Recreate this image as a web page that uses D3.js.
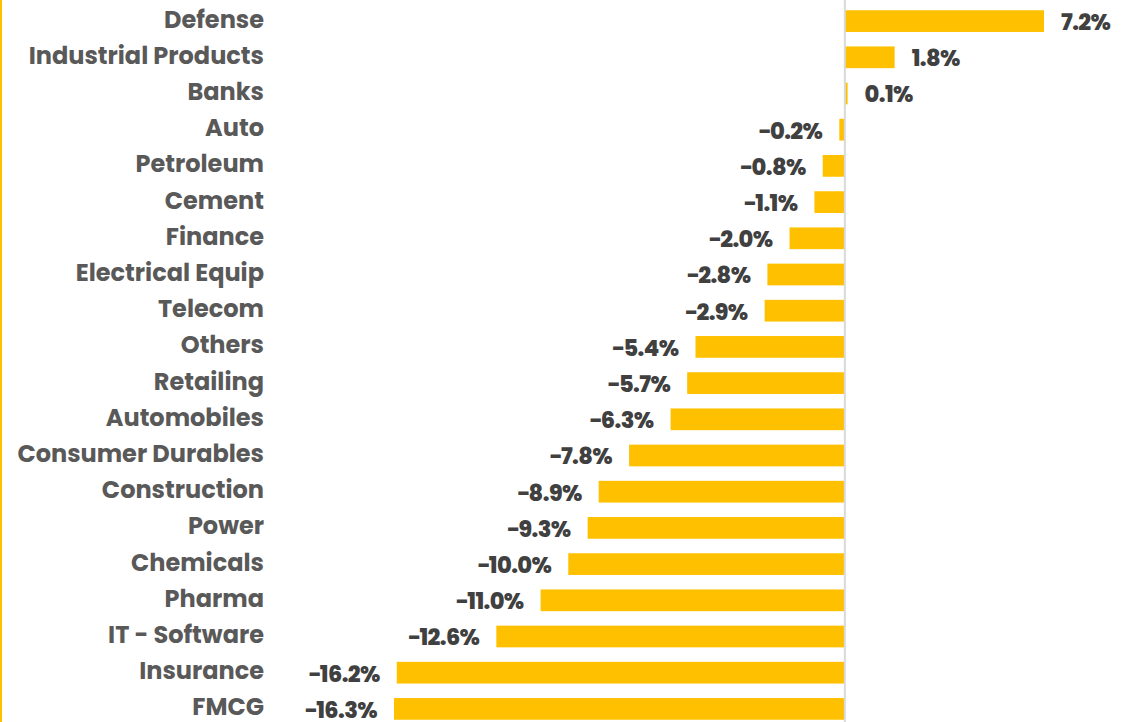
<!DOCTYPE html>
<html>
<head>
<meta charset="utf-8">
<script src="https://cdn.jsdelivr.net/npm/d3@7"></script>
<style>
  body { margin: 0; background: #fff; }
  svg { display: block; }
</style>
</head>
<body>
<div id="chart"></div>
<script>
const sectors = [
  "Defense", "Industrial Products", "Banks", "Auto", "Petroleum", "Cement",
  "Finance", "Electrical Equip", "Telecom", "Others", "Retailing",
  "Automobiles", "Consumer Durables", "Construction", "Power", "Chemicals",
  "Pharma", "IT - Software", "Insurance", "FMCG"
];
const changes = [
  7.2, 1.8, 0.1, -0.2, -0.8, -1.1,
  -2.0, -2.8, -2.9, -5.4, -5.7,
  -6.3, -7.8, -8.9, -9.3, -10.0,
  -11.0, -12.6, -16.2, -16.3
];

const size = { width: 1138, height: 722 };
const font = "Poppins, 'Open Sans', sans-serif";

const data = sectors.map((s, i) => ({ name: s, value: changes[i] }));

const svg = d3
  .select("#chart")
  .append("svg")
  .attr("width", size.width)
  .attr("height", size.height);

const x = d3.scaleLinear().domain([-16.3, 7.2]).range([394, 1044]);
const y = d3
  .scaleBand()
  .domain(sectors)
  .range([3, 727])
  .paddingInner(0.4)
  .paddingOuter(0.2);

// left edge accent
svg
  .append("line")
  .attr("x1", 1)
  .attr("x2", 1)
  .attr("y1", 0)
  .attr("y2", size.height)
  .attr("stroke", "#FFC000")
  .attr("stroke-width", 2);

svg
  .selectAll(".bar")
  .data(data)
  .join("rect")
  .attr("class", "bar")
  .attr("x", (d) => x(Math.min(0, d.value)))
  .attr("width", (d) => Math.abs(x(d.value) - x(0)))
  .attr("y", (d) => y(d.name))
  .attr("height", y.bandwidth())
  .attr("fill", "#FFC000");

// zero line
svg
  .append("line")
  .attr("x1", x(0))
  .attr("x2", x(0))
  .attr("y1", 0)
  .attr("y2", size.height)
  .attr("stroke", "#d9d9d9")
  .attr("stroke-width", 2);

svg
  .selectAll(".cat")
  .data(data)
  .join("text")
  .attr("class", "cat")
  .attr("x", 264)
  .attr("y", (d) => y(d.name) + y.bandwidth() / 2 - 2)
  .attr("dy", "0.35em")
  .attr("text-anchor", "end")
  .attr("font-family", font)
  .attr("font-weight", 700)
  .attr("font-size", 24)
  .attr("fill", "#595959")
  .text((d) => d.name);

svg
  .selectAll(".val")
  .data(data)
  .join("text")
  .attr("class", "val")
  .attr("x", (d) => (d.value >= 0 ? x(d.value) + 17 : x(d.value) - 17))
  .attr("y", (d) => y(d.name) + y.bandwidth() / 2 + 1)
  .attr("dy", "0.35em")
  .attr("text-anchor", (d) => (d.value >= 0 ? "start" : "end"))
  .attr("font-family", font)
  .attr("font-weight", 800)
  .attr("font-size", 22.5)
  .attr("letter-spacing", -0.6)
  .attr("fill", "#404040")
  .text((d) => d3.format(".1f")(d.value) + "%");
</script>
</body>
</html>
